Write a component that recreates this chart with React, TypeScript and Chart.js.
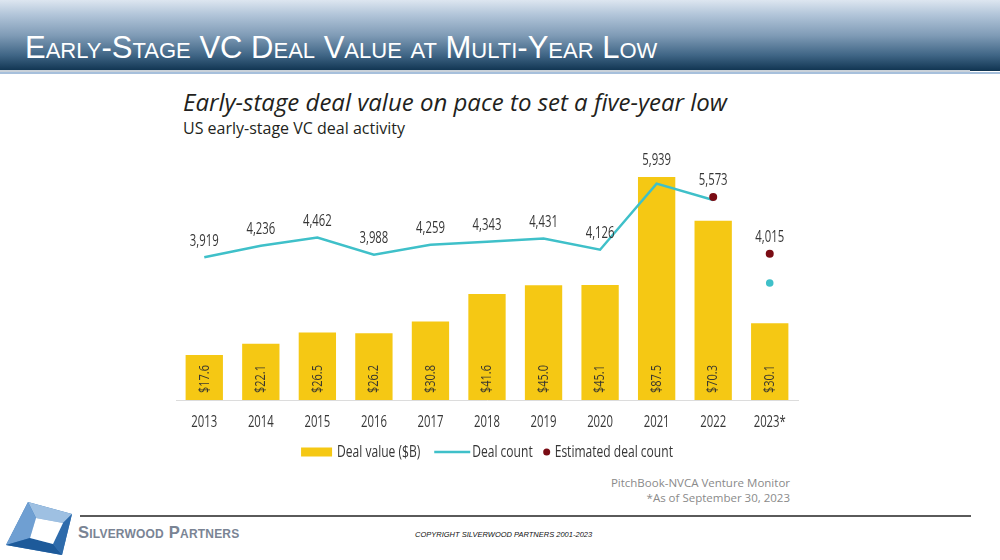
import React, { useEffect, useRef } from "react";
import { Chart, registerables } from "chart.js";

Chart.register(...registerables);

const years = ["2013", "2014", "2015", "2016", "2017", "2018", "2019", "2020", "2021", "2022", "2023*"];
const dealValue = [17.6, 22.1, 26.5, 26.2, 30.8, 41.6, 45.0, 45.1, 87.5, 70.3, 30.1];
const dealCount = [3919, 4236, 4462, 3988, 4259, 4343, 4431, 4126, 5939, 5490, 3210];
const estimatedCount: (number | null)[] = [null, null, null, null, null, null, null, null, null, 5573, 4015];

const YELLOW = "#F5C814";
const CYAN = "#3FC0C9";
const MAROON = "#7A0C14";
const TEXT = "#363636";
const FAM = '"Open Sans", "Noto Sans", sans-serif';
const K = 0.73; // horizontal condensing of chart text

function condText(
  ctx: CanvasRenderingContext2D,
  text: string,
  x: number,
  y: number,
  size: number,
  align: CanvasTextAlign,
  color: string,
  rotate = 0
) {
  ctx.save();
  ctx.font = `${size}px ${FAM}`;
  ctx.fillStyle = color;
  ctx.textBaseline = "middle";
  ctx.textAlign = align;
  ctx.translate(x, y);
  if (rotate) ctx.rotate(rotate);
  ctx.scale(K, 1);
  ctx.fillText(text, 0, 0);
  ctx.restore();
}

function condWidth(ctx: CanvasRenderingContext2D, text: string, size: number) {
  ctx.save();
  ctx.font = `${size}px ${FAM}`;
  const w = ctx.measureText(text).width * K;
  ctx.restore();
  return w;
}

const labelPlugin = {
  id: "valueLabels",
  afterDatasetsDraw(chart: any) {
    const { ctx, chartArea } = chart;
    const barMeta = chart.getDatasetMeta(0);
    const y2 = chart.scales.y2;
    const xs = chart.scales.x;
    barMeta.data.forEach((bar: any, i: number) => {
      // rotated bar value
      condText(ctx, "$" + dealValue[i].toFixed(1), bar.x, bar.base - 7, 15, "left", "#3b382f", -Math.PI / 2);
      // count label above line / estimate / bar
      const v = estimatedCount[i] ?? dealCount[i];
      const py = Math.min(y2.getPixelForValue(v), bar.y);
      condText(ctx, v.toLocaleString("en-US"), bar.x, py - 16, 15.5, "center", TEXT);
    });
    // category labels of the x axis
    chart.data.labels.forEach((lab: string, i: number) => {
      condText(ctx, lab, xs.getPixelForTick(i), chartArea.bottom + 23, 15.5, "center", TEXT);
    });
  },
};

const legendPlugin = {
  id: "customLegend",
  afterDraw(chart: any) {
    const { ctx, chartArea } = chart;
    const ds = chart.data.datasets;
    const size = 16.5;
    const items = [
      { kind: "rect", w: 31, label: ds[0].label, color: ds[0].backgroundColor, gap: 5, after: 14 },
      { kind: "line", w: 36, label: ds[1].label, color: ds[1].borderColor, gap: 2, after: 10 },
      { kind: "dot", w: 8, label: ds[2].label, color: ds[2].backgroundColor, gap: 4, after: 0 },
    ];
    let total = 0;
    items.forEach((it) => {
      total += it.w + it.gap + condWidth(ctx, it.label, size) + it.after;
    });
    let x = (chartArea.left + chartArea.right) / 2 - total / 2;
    const y = chartArea.bottom + 52;
    ctx.save();
    items.forEach((it) => {
      if (it.kind === "rect") {
        ctx.fillStyle = it.color;
        ctx.fillRect(x, y - 4.5, it.w, 9);
      } else if (it.kind === "line") {
        ctx.strokeStyle = it.color;
        ctx.lineWidth = 2.5;
        ctx.beginPath();
        ctx.moveTo(x, y);
        ctx.lineTo(x + it.w, y);
        ctx.stroke();
      } else {
        ctx.fillStyle = it.color;
        ctx.beginPath();
        ctx.arc(x + it.w / 2, y, 3.5, 0, Math.PI * 2);
        ctx.fill();
      }
      x += it.w + it.gap;
      condText(ctx, it.label, x, y, size, "left", TEXT);
      x += condWidth(ctx, it.label, size) + it.after;
    });
    ctx.restore();
  },
};

function ChartBox() {
  const ref = useRef<HTMLCanvasElement | null>(null);
  useEffect(() => {
    if (!ref.current) return;
    const last = years.length - 1;
    const chart = new Chart(ref.current, {
      type: "bar",
      data: {
        labels: years,
        datasets: [
          {
            type: "bar",
            label: "Deal value ($B)",
            data: dealValue,
            backgroundColor: YELLOW,
            borderWidth: 0,
            yAxisID: "y",
            order: 3,
            barPercentage: 0.66,
            categoryPercentage: 1,
          },
          {
            type: "line",
            label: "Deal count",
            data: dealCount,
            borderColor: CYAN,
            backgroundColor: CYAN,
            borderWidth: 2.5,
            yAxisID: "y2",
            order: 2,
            tension: 0,
            pointRadius: (c: any) => (c.dataIndex === last ? 3.8 : 0),
            pointHoverRadius: 0,
            pointBorderWidth: 0,
            segment: {
              borderColor: (c: any) => (c.p1DataIndex === last ? "rgba(0,0,0,0)" : CYAN),
            },
          },
          {
            type: "line",
            label: "Estimated deal count",
            data: estimatedCount,
            borderColor: MAROON,
            backgroundColor: MAROON,
            showLine: false,
            pointRadius: 4,
            pointBorderWidth: 0,
            yAxisID: "y2",
            order: 1,
          },
        ],
      },
      options: {
        animation: false,
        responsive: false,
        maintainAspectRatio: false,
        layout: { padding: { left: 6, right: 12, top: 15, bottom: 70 } },
        plugins: {
          legend: { display: false },
          tooltip: { enabled: false },
          title: { display: false },
        },
        scales: {
          x: {
            grid: { display: false, drawTicks: false },
            border: { display: true, color: "#dcdcdc", width: 1 },
            ticks: { display: false },
          },
          y: { display: false, min: 0, max: 100 },
          y2: { display: false, min: 0, max: 7000 },
        },
      },
      plugins: [labelPlugin, legendPlugin],
    });
    return () => chart.destroy();
  }, []);
  return (
    <canvas
      ref={ref}
      width={640}
      height={340}
      style={{ position: "absolute", left: 170, top: 130, width: 640, height: 340 }}
    />
  );
}

export default function App() {
  return (
    <div
      style={{
        position: "fixed",
        left: 0,
        top: 0,
        width: 1000,
        height: 560,
        background: "#ffffff",
        overflow: "hidden",
        fontFamily: "'Open Sans', sans-serif",
      }}
    >
      {/* header band */}
      <div
        style={{
          position: "absolute",
          left: 0,
          top: 0,
          width: 1000,
          height: 71,
          background: "linear-gradient(to bottom, #dde6f0 0%, #b3c6da 20%, #7f9bb6 50%, #3f6585 78%, #0f3350 100%)",
        }}
      />
      <div style={{ position: "absolute", left: 0, top: 70, width: 970, height: 2, background: "#c9d1d9" }} />
      <div style={{ position: "absolute", left: 0, top: 72, width: 1000, height: 2, background: "#a6bfdb" }} />
      <div
        style={{
          position: "absolute",
          left: 25,
          top: 30,
          color: "#ffffff",
          fontFamily: '"Liberation Sans Narrow", "Arial Narrow", "Liberation Sans", sans-serif',
          fontVariant: "small-caps",
          fontSize: 31,
          lineHeight: "36px",
          whiteSpace: "nowrap",
        }}
      >
        Early-Stage VC Deal Value at Multi-Year Low
      </div>

      {/* chart titles */}
      <div
        style={{
          position: "absolute",
          left: 183,
          top: 86,
          fontFamily: "'Open Sans', sans-serif",
          fontStyle: "italic",
          fontSize: 24,
          color: "#231f20",
          whiteSpace: "nowrap",
          lineHeight: "32px",
        }}
      >
        Early-stage deal value on pace to set a five-year low
      </div>
      <div
        style={{
          position: "absolute",
          left: 183,
          top: 118,
          fontFamily: "'Open Sans', sans-serif",
          fontSize: 16,
          color: "#231f20",
          whiteSpace: "nowrap",
          lineHeight: "20px",
        }}
      >
        US early-stage VC deal activity
      </div>

      <ChartBox />

      {/* source */}
      <div
        style={{
          position: "absolute",
          right: 210,
          top: 475,
          textAlign: "right",
          fontFamily: "'Open Sans', sans-serif",
          fontSize: 11.5,
          color: "#8a8a8a",
          lineHeight: "15px",
          whiteSpace: "nowrap",
        }}
      >
        PitchBook-NVCA Venture Monitor
        <br />
        *As of September 30, 2023
      </div>

      {/* footer */}
      <div style={{ position: "absolute", left: 80, top: 515, width: 891, height: 2, background: "#5a5a5a" }} />
      <svg style={{ position: "absolute", left: 0, top: 490 }} width={90} height={70} viewBox="0 0 90 70">
        <polygon points="28,12 72,24 62,65 6,55" fill="#3e7cbc" />
        <polygon points="28,12 72,24 63,33 36,28" fill="#9ec0e2" />
        <polygon points="28,12 36,28 30,48 6,55" fill="#6f9fd2" />
        <polygon points="6,55 30,48 53,54 62,65" fill="#1d5a9a" />
        <polygon points="63,33 72,24 62,65 53,54" fill="#2e6bab" />
        <polygon points="36,28 63,33 53,54 30,48" fill="#ffffff" />
      </svg>
      <div
        style={{
          position: "absolute",
          left: 78,
          top: 523,
          fontFamily: '"Liberation Sans", Arial, sans-serif',
          fontWeight: "bold",
          fontVariant: "small-caps",
          fontSize: 16.6,
          color: "#7a8494",
          whiteSpace: "nowrap",
          lineHeight: "20px",
          letterSpacing: 0.2,
        }}
      >
        Silverwood Partners
      </div>
      <div
        style={{
          position: "absolute",
          left: 415,
          top: 530,
          fontFamily: '"Liberation Sans", Arial, sans-serif',
          fontStyle: "italic",
          fontSize: 7.5,
          color: "#111111",
          whiteSpace: "nowrap",
          lineHeight: "10px",
        }}
      >
        COPYRIGHT SILVERWOOD PARTNERS 2001-2023
      </div>
    </div>
  );
}
